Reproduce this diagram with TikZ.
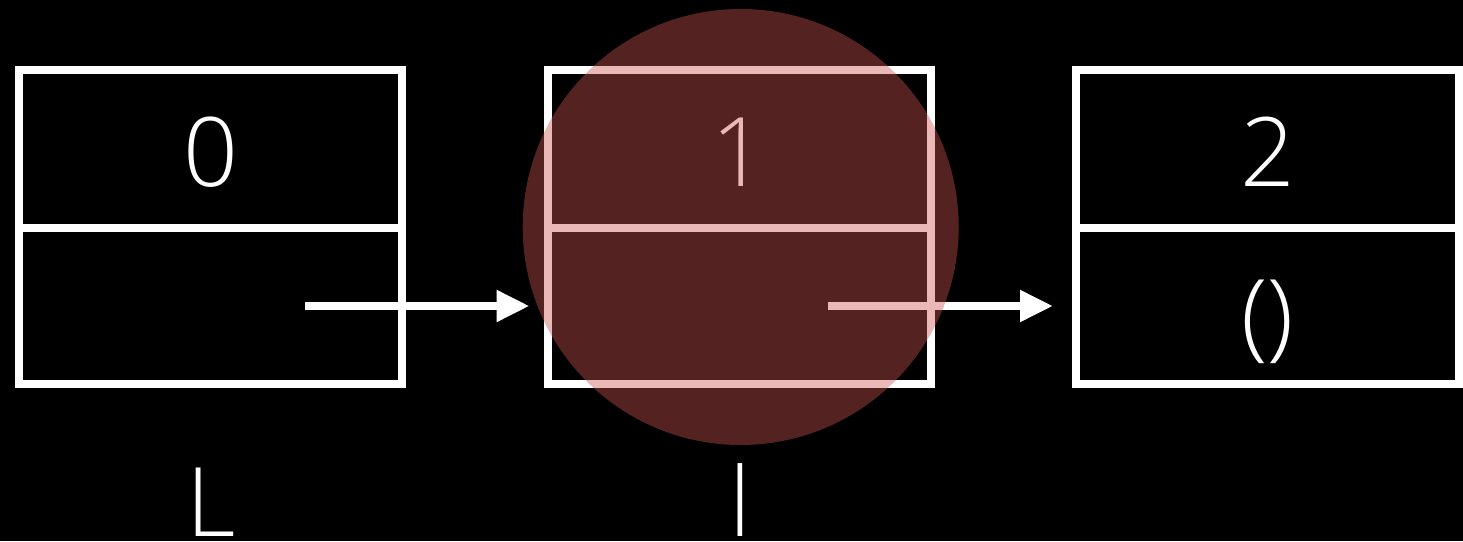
\documentclass[tikz,border=0pt]{standalone}
\usepackage{fontspec}
\setmainfont{Open Sans Light}
\usetikzlibrary{arrows.meta}
\definecolor{hlred}{RGB}{207,83,83}
\begin{document}
\begin{tikzpicture}[x=1pt,y=1pt,
  cell/.style={draw=white, line width=8pt, minimum width=383pt, inner sep=0pt},
  topcell/.style={cell, minimum height=158pt},
  botcell/.style={cell, minimum height=156pt},
  val/.style={text=white, font=\fontsize{96}{96}\selectfont, anchor=base, inner sep=0pt},
  link/.style={draw=white, line width=8pt, -{Triangle[length=33pt,width=30pt]}},
  hl/.style={circle, fill=hlred, fill opacity=0.41, minimum size=436pt, inner sep=0pt}]
\fill[black] (0,0) rectangle (1463,541);
\useasboundingbox (0,0) rectangle (1463,541);
% cells
\node[topcell] (a0) at (210.5,392) {};
\node[botcell] (b0) at (210.5,235) {};
\node[topcell] (a1) at (739,392) {};
\node[botcell] (b1) at (739,235) {};
\node[topcell] (a2) at (1267.5,392) {};
\node[botcell] (b2) at (1267.5,235) {};
% values
\node[val] (v0) at (210.5,354) {0};
\node[val] (v1) at (739,354) {1};
\node[val] (v2) at (1267.5,354) {2};
\node[val] (nil) at (1267.5,193) {()};
% names
\node[val] (nL) at (211,5) {L};
\node[val] (nl) at (740,5) {l};
% links
\coordinate (s0) at (305,235);
\coordinate (s1) at (828,235);
\draw[link, shorten >=14pt] (s0) -- (b1.west);
\draw[link, shorten >=19pt] (s1) -- (b2.west);
% highlight
\node[hl] (focus) at (740.7,314) {};
\end{tikzpicture}
\end{document}
